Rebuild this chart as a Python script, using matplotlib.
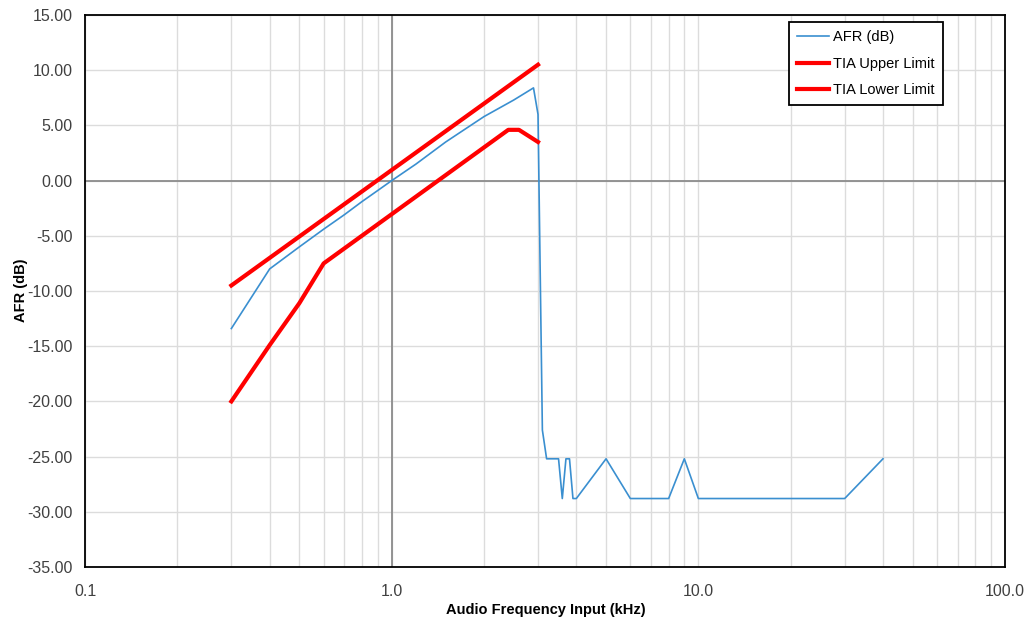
import matplotlib
matplotlib.use("Agg")
import matplotlib.pyplot as plt
from matplotlib.ticker import FixedLocator, NullFormatter

plt.rcParams['font.family'] = ['Liberation Sans', 'DejaVu Sans']

# AFR measured response (kHz, dB)
afr_freq = [0.3, 0.4, 0.5, 0.6, 0.7, 0.8, 0.9, 1.0, 1.2, 1.5, 2.0, 2.5, 2.9, 3.0,
            3.1, 3.2, 3.5, 3.6, 3.7, 3.8, 3.9, 4.0, 5.0, 6.0, 8.0, 9.0, 10.0, 30.0, 40.0]
afr_db = [-13.4, -8.0, -6.0, -4.4, -3.1, -1.9, -0.9, 0.0, 1.5, 3.5, 5.8, 7.3, 8.4, 6.0,
          -22.6, -25.2, -25.2, -28.8, -25.2, -25.2, -28.8, -28.8, -25.2, -28.8, -28.8,
          -25.2, -28.8, -28.8, -25.2]

# TIA limits
upper_freq = [0.3, 3.0]
upper_db = [-9.5, 10.5]
lower_freq = [0.3, 0.4, 0.5, 0.6, 2.4, 2.6, 3.0]
lower_db = [-20.0, -14.9, -11.1, -7.5, 4.6, 4.6, 3.5]

y_ticks = [15, 10, 5, 0, -5, -10, -15, -20, -25, -30, -35]
x_ticks = [0.1, 1.0, 10.0, 100.0]
x_labels = ["0.1", "1.0", "10.0", "100.0"]

fig = plt.figure(figsize=(10.27, 6.21), dpi=100)
ax = fig.add_axes([0.0828, 0.087, 0.8958, 0.8888])

ax.set_xscale('log')
ax.set_xlim(0.1, 100)
ax.set_ylim(-35, 15)

minor = [m * d for d in (0.1, 1, 10) for m in range(2, 10)]
ax.xaxis.set_major_locator(FixedLocator(x_ticks))
ax.xaxis.set_minor_locator(FixedLocator(minor))
ax.xaxis.set_minor_formatter(NullFormatter())
ax.set_xticklabels(x_labels)
ax.set_yticks(y_ticks)
ax.set_yticklabels([f"{v:.2f}" for v in y_ticks])

ax.grid(True, which='both', axis='x', color='#dcdcdc', lw=1.0)
ax.grid(True, which='major', axis='y', color='#dcdcdc', lw=1.0)
ax.set_axisbelow(True)
ax.axvline(1.0, color='#8c8c8c', lw=1.3, zorder=1)
ax.axhline(0.0, color='#8c8c8c', lw=1.3, zorder=1)

ax.tick_params(which='both', length=0, labelsize=11.5, labelcolor='#404040')
ax.tick_params(axis='x', pad=12)
ax.tick_params(axis='y', pad=9)

for s in ax.spines.values():
    s.set_color('black')
    s.set_linewidth(1.3)

ax.plot(afr_freq, afr_db, color='#3a8fd0', lw=1.2, label='AFR (dB)', zorder=3)
ax.plot(upper_freq, upper_db, color='#ff0000', lw=3.0, label='TIA Upper Limit', zorder=4)
ax.plot(lower_freq, lower_db, color='#ff0000', lw=3.0, label='TIA Lower Limit', zorder=4)

ax.set_xlabel('Audio Frequency Input (kHz)', fontsize=10.5, fontweight='bold')
ax.xaxis.set_label_coords(0.501, -0.065)
ax.set_ylabel('AFR (dB)', fontsize=10.5, fontweight='bold')
ax.yaxis.set_label_coords(-0.062, 0.502)

leg = ax.legend(loc='upper right', bbox_to_anchor=(0.9326, 0.987), borderaxespad=0,
                fontsize=10.5, frameon=True, fancybox=False, handlelength=2.2,
                handletextpad=0.3, labelspacing=0.85, borderpad=0.55)
leg.get_frame().set_edgecolor('black')
leg.get_frame().set_linewidth(1.3)
leg.get_frame().set_alpha(1)

fig.savefig('out.png', dpi=100)
